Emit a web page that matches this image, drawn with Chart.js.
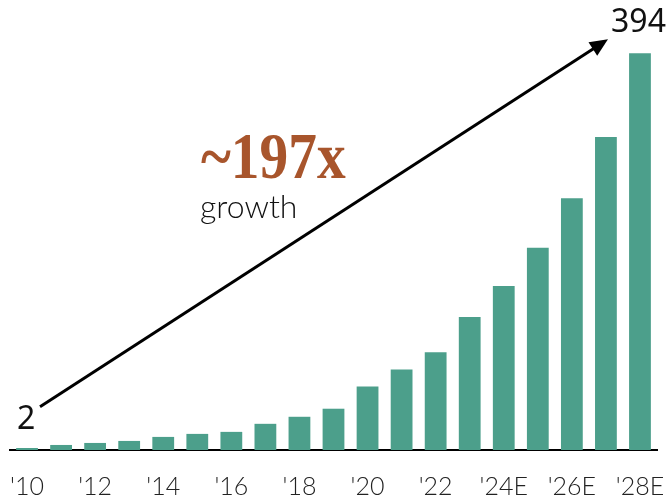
<!DOCTYPE html>
<html>
<head>
<meta charset="utf-8">
<script src="https://cdn.jsdelivr.net/npm/chart.js@4/dist/chart.umd.min.js"></script>
<style>
  html, body { margin: 0; padding: 0; background: #fff; }
  #wrap { width: 668px; height: 500px; }
</style>
</head>
<body>
<div id="wrap"><canvas id="growthChart" width="668" height="500"></canvas></div>
<script>
const years = ["'10", "'11", "'12", "'13", "'14", "'15", "'16", "'17", "'18", "'19",
  "'20", "'21", "'22", "'23", "'24E", "'25E", "'26E", "'27E", "'28E"];
const values = [2, 5, 7, 9, 13, 16, 18, 26, 33, 41, 63, 80, 97, 132, 163, 201, 250, 311, 394];
const multiple = "~197x";
const multipleNote = "growth";

// labels, arrow and the big growth figure on top of the bars
const annotate = {
  id: "annotate",
  afterDatasetsDraw(chart) {
    const ctx = chart.ctx;
    const x = chart.scales.x;
    const y = chart.scales.y;
    const first = values[0];
    const last = values[values.length - 1];

    const x0 = x.getPixelForValue(0);
    const xN = x.getPixelForValue(values.length - 1);

    ctx.save();
    ctx.fillStyle = "#111";
    ctx.font = "400 32px 'Noto Sans'";
    ctx.textBaseline = "alphabetic";
    ctx.textAlign = "left";
    ctx.fillText(String(first), x0 - 10, y.getPixelForValue(21));
    ctx.textAlign = "right";
    ctx.fillText(String(last), xN + 26, y.getPixelForValue(415));

    // arrow
    const sx = x0 + 13, sy = y.getPixelForValue(43);
    const ex = xN - 32, ey = y.getPixelForValue(408);
    const ang = Math.atan2(ey - sy, ex - sx);
    ctx.strokeStyle = "#000";
    ctx.lineWidth = 3;
    ctx.beginPath();
    ctx.moveTo(sx, sy);
    ctx.lineTo(ex - 10 * Math.cos(ang), ey - 10 * Math.sin(ang));
    ctx.stroke();
    ctx.fillStyle = "#000";
    ctx.beginPath();
    ctx.moveTo(ex, ey);
    ctx.lineTo(ex - 18 * Math.cos(ang) + 8 * Math.sin(ang), ey - 18 * Math.sin(ang) - 8 * Math.cos(ang));
    ctx.lineTo(ex - 18 * Math.cos(ang) - 8 * Math.sin(ang), ey - 18 * Math.sin(ang) + 8 * Math.cos(ang));
    ctx.closePath();
    ctx.fill();

    ctx.textAlign = "left";
    ctx.fillStyle = "#a8552c";
    ctx.font = "bold 66px 'Liberation Serif'";
    ctx.save();
    ctx.translate(201, 178);
    ctx.scale(0.87, 1);
    ctx.fillText(multiple, 0, 0);
    ctx.restore();
    ctx.fillStyle = "#111";
    ctx.font = "300 32px Lato";
    ctx.fillText(multipleNote, 200, 218);
    ctx.restore();
  }
};

new Chart(document.getElementById("growthChart"), {
  type: "bar",
  data: {
    labels: years,
    datasets: [{
      data: values,
      backgroundColor: "#4c9f8b",
      barPercentage: 0.64,
      categoryPercentage: 1
    }]
  },
  options: {
    responsive: false,
    animation: false,
    layout: { padding: { left: 10, right: 11, top: 7, bottom: 0 } },
    plugins: { legend: { display: false }, tooltip: { enabled: false } },
    scales: {
      x: {
        grid: { display: false },
        border: { color: "#000", width: 2 },
        ticks: {
          autoSkip: false,
          maxRotation: 0,
          padding: 14,
          color: "#222",
          font: { family: "Lato", weight: "300", size: 25 },
          callback: (v, i) => (i % 2 === 0 ? years[i] : "")
        },
        afterFit: s => {
          s.height = 50;
          s.paddingLeft = 0;
          s.paddingRight = 0;
        }
      },
      y: {
        display: false,
        min: 0,
        max: 440
      }
    }
  },
  plugins: [annotate]
});
</script>
</body>
</html>
